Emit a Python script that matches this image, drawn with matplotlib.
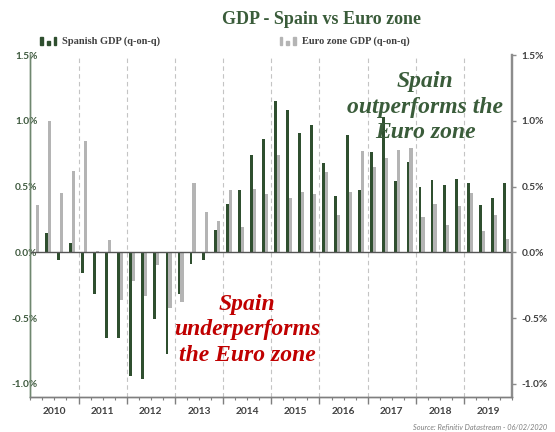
import numpy as np
import matplotlib
matplotlib.use("Agg")
import matplotlib.pyplot as plt
from matplotlib.patches import Rectangle

# Quarterly GDP growth (q-on-q, %), 2010 Q1 - 2019 Q4
spain_gdp = [0.00, 0.15, -0.06, 0.07,
             -0.16, -0.32, -0.65, -0.65,
             -0.94, -0.96, -0.51, -0.77,
             -0.32, -0.09, -0.06, 0.17,
             0.37, 0.47, 0.74, 0.86,
             1.15, 1.08, 0.91, 0.97,
             0.68, 0.43, 0.89, 0.47,
             0.76, 1.03, 0.54, 0.69,
             0.50, 0.55, 0.51, 0.56,
             0.53, 0.36, 0.41, 0.53]
euro_gdp = [0.36, 1.00, 0.45, 0.62,
            0.85, 0.01, 0.09, -0.36,
            -0.22, -0.33, -0.10, -0.42,
            -0.38, 0.53, 0.31, 0.24,
            0.47, 0.19, 0.48, 0.44,
            0.74, 0.41, 0.46, 0.44,
            0.61, 0.28, 0.46, 0.77,
            0.65, 0.72, 0.78, 0.79,
            0.27, 0.37, 0.21, 0.35,
            0.45, 0.16, 0.28, 0.10]
years = ["2010", "2011", "2012", "2013", "2014",
         "2015", "2016", "2017", "2018", "2019"]

green = "#2f4f2f"
grey = "#b4b4b4"
title_green = "#3a5c3a"
sans = "Lato"
serif = "Liberation Serif"

W, H = 555, 432
fig = plt.figure(figsize=(W / 100, H / 100), dpi=100)

def fx(px):
    return px / W

def fy(py):
    return 1 - py / H

ax = fig.add_axes([fx(30.3), fy(397), fx(482), 342 / H])

x = np.arange(len(spain_gdp))
ax.bar(x - 0.16, spain_gdp, width=0.24, color=green, zorder=3)
ax.bar(x + 0.09, euro_gdp, width=0.26, color=grey, zorder=3)

ax.set_xlim(-0.5, len(x) - 0.5)
ax.set_ylim(-1.1, 1.5)

# year separators
bounds = np.arange(3.5, len(x) - 1, 4)
for b in bounds:
    ax.axvline(b, color="#c4c4c4", lw=0.8, ls=(0, (4, 3)), zorder=1)
ax.axhline(0, color="#555555", lw=1.0, zorder=4)

# x axis: quarter ticks, longer ticks at year boundaries
ax.set_xticks(bounds)
ax.set_xticks(np.arange(-0.5, len(x), 1), minor=True)
ax.tick_params(axis="x", which="major", length=5, width=1, color="#7f7f7f", labelbottom=False)
ax.tick_params(axis="x", which="minor", length=2.5, width=0.8, color="#7f7f7f")

sec = ax.secondary_xaxis("bottom")
sec.set_xticks(np.arange(1.5, len(x), 4), labels=years)
sec.tick_params(length=0, pad=7, labelsize=7.3, labelcolor="#404040")
sec.spines["bottom"].set_visible(False)
for t in sec.get_xticklabels():
    t.set_fontfamily(sans)
    t.set_fontweight("bold")

yt = np.arange(-1.0, 1.51, 0.5)
ylabels = ["{:.1f}%".format(v) for v in yt]

ax.set_yticks(yt, labels=ylabels)
ax.tick_params(axis="y", length=0, pad=-5.2, labelsize=7.3, labelcolor="#3f5a3f")
for t in ax.get_yticklabels():
    t.set_fontfamily(sans)
    t.set_fontweight("bold")

ax2 = ax.twinx()
ax2.set_ylim(ax.get_ylim())
ax2.set_yticks(yt, labels=ylabels)
ax2.tick_params(axis="y", length=3, width=1, color="#8c8c8c", pad=3.8,
                labelsize=7.3, labelcolor="#404040")
for t in ax2.get_yticklabels():
    t.set_fontfamily(sans)
    t.set_fontweight("bold")

for a in (ax, ax2):
    a.spines["top"].set_visible(False)
    a.spines["left"].set_color("#6f876f")
    a.spines["left"].set_linewidth(1.0)
    a.spines["right"].set_color("#8c8c8c")
    a.spines["right"].set_linewidth(1.6)
    a.spines["bottom"].set_color("#7f7f7f")
    a.spines["bottom"].set_linewidth(1.0)

# annotations
ax.text(fx(425), fy(107), "Spain\noutperforms the\nEuro zone", transform=fig.transFigure,
        ha="center", va="center", fontsize=17, fontfamily=serif, fontweight="bold",
        fontstyle="italic", color=title_green, linespacing=1.3, zorder=5)
ax.text(fx(247), fy(330), "Spain\nunderperforms\nthe Euro zone", transform=fig.transFigure,
        ha="center", va="center", fontsize=17, fontfamily=serif, fontweight="bold",
        fontstyle="italic", color="#c00000", linespacing=1.3, zorder=5)

# title
fig.text(fx(222), fy(19), "GDP - Spain vs Euro zone", ha="left", va="center",
         fontsize=13, fontfamily=serif, fontweight="bold", color=title_green)

# legend
def legend_icon(x0, color):
    for dx, h in [(0, 8), (7, 4.5), (13.5, 8)]:
        fig.patches.append(Rectangle((fx(x0 + dx), fy(45)), fx(2.8), h / H,
                                     transform=fig.transFigure, color=color))

legend_icon(40, green)
fig.text(fx(62), fy(41.5), "Spanish GDP (q-on-q)", ha="left", va="center",
         fontsize=7.5, fontfamily=serif, fontweight="bold", color="#404040")
legend_icon(279.5, grey)
fig.text(fx(302), fy(41.5), "Euro zone GDP (q-on-q)", ha="left", va="center",
         fontsize=7.5, fontfamily=serif, fontweight="bold", color="#404040")

fig.text(fx(547), fy(427), "Source: Refinitiv Datastream - 06/02/2020", ha="right", va="center",
         fontsize=5.3, fontfamily=sans, fontstyle="italic", color="#7f7f7f")

fig.savefig("out.png", dpi=100)
